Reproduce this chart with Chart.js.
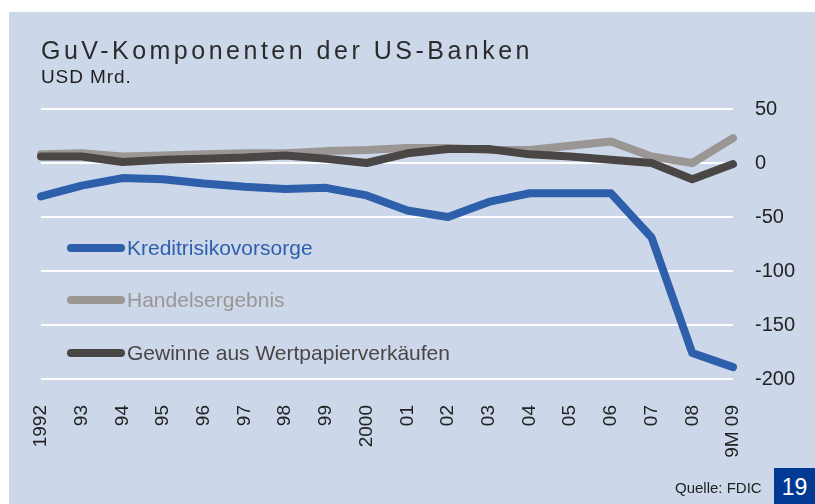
<!DOCTYPE html>
<html>
<head>
<meta charset="utf-8">
<script src="https://cdn.jsdelivr.net/npm/chart.js@4.4.0/dist/chart.umd.min.js"></script>
<style>
  html, body { margin: 0; padding: 0; background: #fff; }
  body { width: 815px; height: 504px; position: relative; overflow: hidden; font-family: "Liberation Sans", Arial, sans-serif; }
  #panel { position: absolute; left: 9px; top: 12px; width: 806px; height: 492px; background: #ccd8ea; }
  #chartBox { position: absolute; left: 0; top: 0; width: 806px; height: 492px; }
  #title { position: absolute; left: 32px; top: 24px; font-size: 25px; letter-spacing: 3.5px; color: #2b2b2b; white-space: nowrap; }
  #subtitle { position: absolute; left: 32px; top: 54px; font-size: 19px; letter-spacing: 0.9px; color: #1e1e1e; white-space: nowrap; }
  .leg { position: absolute; left: 58px; height: 22px; display: flex; align-items: center; font-size: 21px; white-space: nowrap; }
  .leg .sw { width: 58px; height: 8px; border-radius: 4px; margin-right: 2px; }
  #source { position: absolute; left: 666px; top: 467px; font-size: 15px; color: #222; }
  #page { position: absolute; left: 765px; top: 456px; width: 41px; height: 36px; background: #003a94; color: #fff; font-size: 23px; text-align: center; line-height: 38px; }
</style>
</head>
<body>
<div id="panel">
  <div id="chartBox"><canvas id="guvChart"></canvas></div>
  <div id="title">GuV-Komponenten der US-Banken</div>
  <div id="subtitle">USD Mrd.</div>
  <div id="legend"></div>
  <div id="source">Quelle: FDIC</div>
  <div id="page">19</div>
</div>
<script>
// ===============================================
// GuV-Komponenten der US-Banken (USD Mrd.)
// ===============================================

const years = ['1992', '93', '94', '95', '96', '97', '98', '99', '2000', '01', '02', '03', '04', '05', '06', '07', '08', '9M 09'];

const kreditrisikovorsorge = [-31, -21, -14, -15, -19, -22, -24, -23, -30, -44, -50, -36, -28, -28, -28, -69, -176, -189];
const handelsergebnis = [8, 9, 6, 7, 8, 9, 9, 11, 12, 14, 14, 12, 12, 16, 20, 6, 0, 23];
const wertpapiergewinne = [6, 6, 1, 3, 4, 5, 7, 4, 0, 9, 13, 13, 8, 6, 3, 0, -15, -1];

const yTicks = [50, 0, -50, -100, -150, -200];

const seriesStyles = [
    { label: 'Kreditrisikovorsorge', data: kreditrisikovorsorge, color: '#2e5fab', order: 3 },
    { label: 'Handelsergebnis', data: handelsergebnis, color: '#9a9693', order: 2 },
    { label: 'Gewinne aus Wertpapierverkäufen', data: wertpapiergewinne, color: '#4b4646', order: 1 }
];

// legend sits inside the plot, drawn as html
const legendTops = [225, 277, 330];
const legendEl = document.getElementById('legend');
seriesStyles.forEach((s, i) => {
    const row = document.createElement('div');
    row.className = 'leg';
    row.style.top = legendTops[i] + 'px';
    row.style.color = s.color;
    row.innerHTML = '<span class="sw" style="background:' + s.color + '"></span><span>' + s.label + '</span>';
    legendEl.appendChild(row);
});

const ctx = document.getElementById('guvChart');
new Chart(ctx, {
    type: 'line',
    data: {
        labels: years,
        datasets: seriesStyles.map(s => ({
            label: s.label,
            data: s.data,
            borderColor: s.color,
            backgroundColor: s.color,
            borderWidth: 8,
            borderCapStyle: 'round',
            borderJoinStyle: 'round',
            pointRadius: 0,
            tension: 0,
            order: s.order
        }))
    },
    options: {
        responsive: true,
        maintainAspectRatio: false,
        animation: false,
        layout: { padding: { left: 32, top: 97, right: 0, bottom: 0 } },
        plugins: {
            legend: { display: false },
            tooltip: { enabled: false }
        },
        scales: {
            x: {
                grid: { display: false },
                border: { display: false },
                ticks: {
                    color: '#222',
                    font: { family: 'Liberation Sans', size: 19 },
                    minRotation: 90,
                    maxRotation: 90,
                    autoSkip: false,
                    padding: 18
                },
                afterFit: scale => { scale.height = 125; }
            },
            y: {
                position: 'right',
                min: -200,
                max: 50,
                afterBuildTicks: scale => { scale.ticks = yTicks.map(v => ({ value: v })); },
                grid: { color: '#ffffff', lineWidth: 2, drawTicks: false },
                border: { display: false },
                ticks: {
                    color: '#222',
                    font: { family: 'Liberation Sans', size: 20 },
                    padding: 22
                },
                afterFit: scale => { scale.width = 82; }
            }
        }
    }
});
</script>
</body>
</html>
